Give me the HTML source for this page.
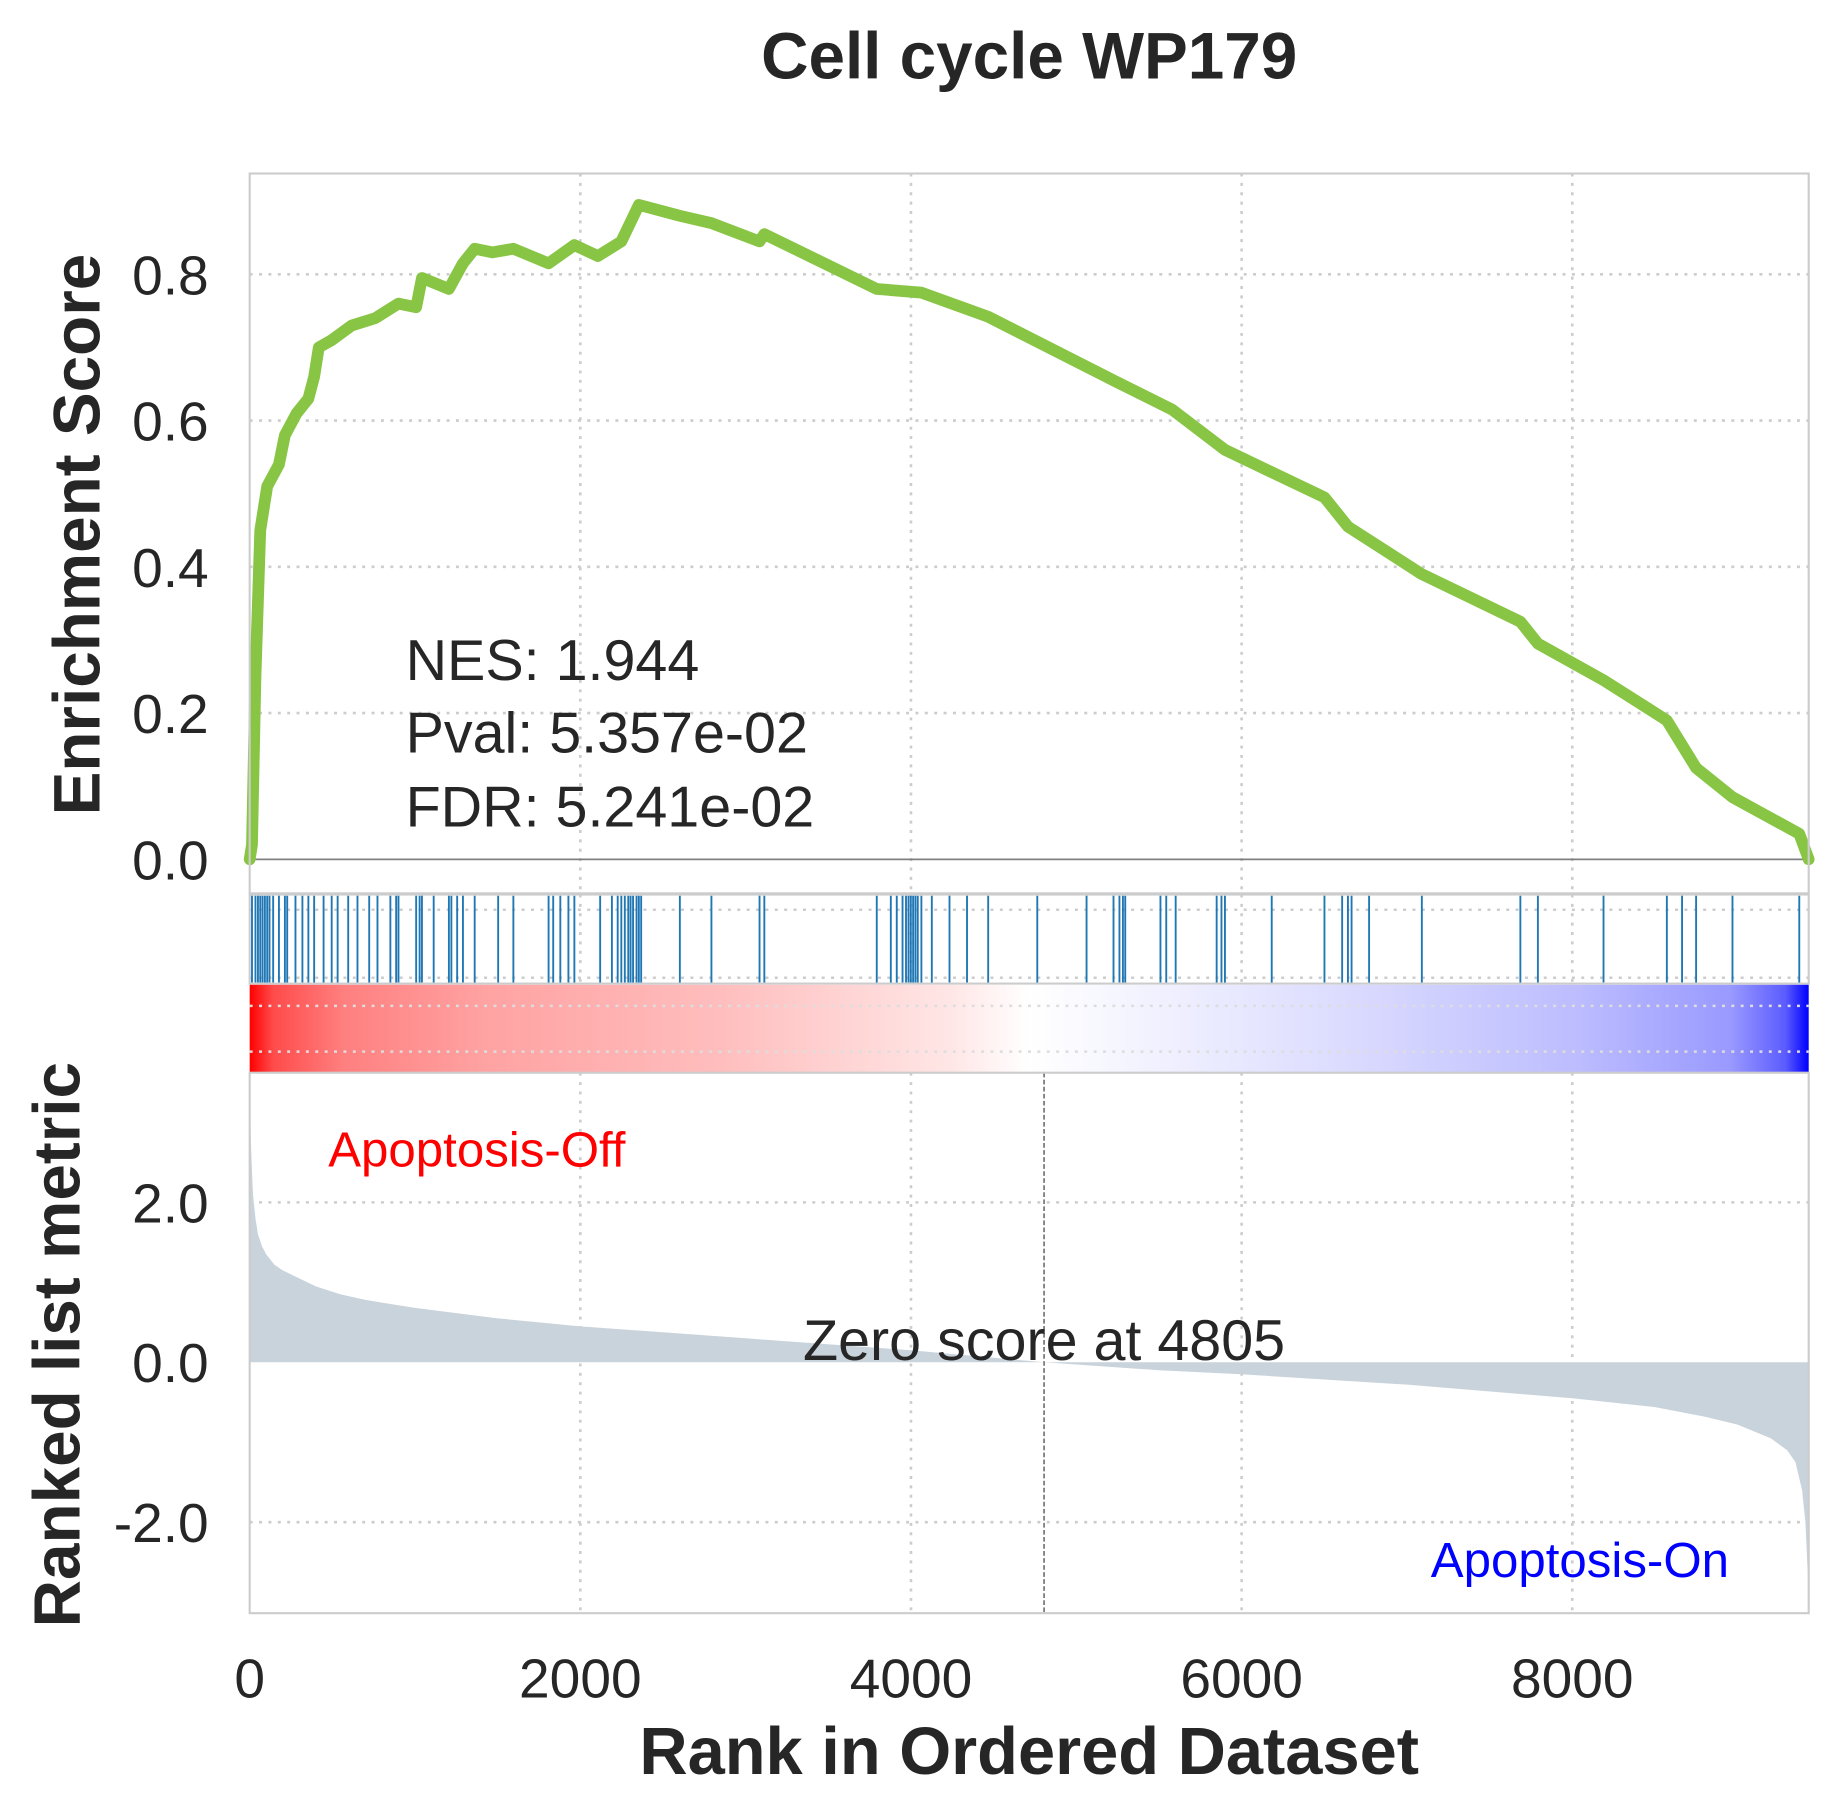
<!DOCTYPE html>
<html><head><meta charset="utf-8">
<style>
html,body{margin:0;padding:0;background:#fff;}
svg{display:block;}
text{font-family:"Liberation Sans",Arial,sans-serif;fill:#262626;}
</style></head>
<body>
<svg id="chart" width="1838" height="1816" viewBox="0 0 1568 1549" preserveAspectRatio="none" xmlns="http://www.w3.org/2000/svg">
<defs>
<linearGradient id="cbar" x1="0" x2="1" y1="0" y2="0">
<stop offset="0" stop-color="#ff0000"/>
<stop offset="0.015" stop-color="#ff4b4b"/>
<stop offset="0.06" stop-color="#ff7f7f"/>
<stop offset="0.15" stop-color="#ffa2a2"/>
<stop offset="0.3" stop-color="#ffbdbd"/>
<stop offset="0.45" stop-color="#ffe6e6"/>
<stop offset="0.5" stop-color="#ffffff"/>
<stop offset="0.56" stop-color="#f5f5ff"/>
<stop offset="0.7" stop-color="#dcdcff"/>
<stop offset="0.85" stop-color="#bdbdff"/>
<stop offset="0.95" stop-color="#9999ff"/>
<stop offset="0.985" stop-color="#5c5cff"/>
<stop offset="1" stop-color="#0000ff"/>
</linearGradient>
</defs>
<g id="layer"></g>
</svg>
<script>
// ---- data ----
const nGenes = 9430;
const esRanks = [0,14,35,64,106,177,213,284,355,390,418,496,617,759,900,1007,1042,1205,1290,1361,1468,1595,1808,1964,2106,2248,2354,2602,2793,3084,3113,3793,4063,4467,5225,5580,5899,6501,6643,7090,7686,7792,8189,8572,8749,8969,9373,9430];
const esValues = [0,0.02,0.25,0.45,0.51,0.54,0.58,0.61,0.63,0.66,0.70,0.71,0.73,0.74,0.76,0.755,0.795,0.78,0.815,0.835,0.83,0.835,0.815,0.84,0.825,0.845,0.895,0.88,0.87,0.845,0.855,0.78,0.775,0.742,0.655,0.615,0.56,0.495,0.455,0.39,0.325,0.295,0.245,0.19,0.125,0.085,0.035,0];
const hitRanks = [14,35,50,64,78,92,106,120,142,177,213,227,277,319,355,390,447,496,532,596,652,723,773,851,886,900,1007,1028,1042,1113,1205,1220,1255,1290,1361,1503,1595,1808,1836,1879,1928,1964,2120,2191,2226,2248,2269,2290,2304,2319,2340,2354,2368,2602,2793,3084,3113,3793,3878,3914,3949,3970,3985,3999,4013,4027,4041,4063,4126,4233,4339,4467,4764,5062,5225,5261,5282,5296,5509,5544,5601,5849,5878,5899,6182,6501,6608,6643,6665,6771,7090,7686,7792,8189,8572,8664,8749,8969,9373];
const metricRanks = [0,10,20,35,50,75,100,150,200,300,400,550,700,1000,1500,2000,3000,4000,4805,5500,6000,7000,8000,8500,8800,9000,9200,9300,9350,9390,9410,9430];
const metricValues = [3.3,2.6,2.1,1.8,1.6,1.45,1.35,1.22,1.15,1.05,0.95,0.85,0.78,0.68,0.55,0.45,0.3,0.15,0,-0.1,-0.15,-0.28,-0.45,-0.56,-0.68,-0.78,-0.95,-1.1,-1.25,-1.6,-2.0,-2.9];
const esTicks = [0,0.2,0.4,0.6,0.8];
const esTickLabels = ["0.0","0.2","0.4","0.6","0.8"];
const metricTicks = [2,0,-2];
const metricTickLabels = ["2.0","0.0","-2.0"];
const xTicks = [0,2000,4000,6000,8000];
const xTickLabels = ["0","2000","4000","6000","8000"];
const zeroRank = 4805;

// ---- axes ----
const L=213, R=1543;
const sx = r => L + (R-L)*r/nGenes;
const esTop=148, esBot=762;
const syES = v => 733 - v*623.75;
const mTop=915, mBot=1376;
const syM = v => 1162 - v*68.2;

const NS="http://www.w3.org/2000/svg";
const layer=document.getElementById('layer');
function mk(tag, attrs, parent){
  const e=document.createElementNS(NS,tag);
  for(const k in attrs) e.setAttribute(k,attrs[k]);
  (parent||layer).appendChild(e); return e;
}
function txt(s, attrs){ const e=mk('text',attrs); e.textContent=s; return e; }
const gridStyle={stroke:'#cccccc','stroke-width':2.2,'stroke-dasharray':'2.5,5.5'};

// title
let t=txt('Cell cycle WP179',{x:878,y:67,'text-anchor':'middle','font-size':56,'font-weight':'bold'});



// ES panel grid
esTicks.forEach((v,i)=>{
  if(v>0){ const g=mk('line',Object.assign({x1:L,x2:R,y1:syES(v),y2:syES(v)},gridStyle));
    
     }
  const tl=txt(esTickLabels[i],{x:178,y:syES(v)+17,'text-anchor':'end','font-size':47});
  
  
});
xTicks.forEach(v=>{ if(v>0){
  [[esTop,esBot],[763,915],[mTop,mBot]].forEach(([a,b])=>{
    const g=mk('line',Object.assign({x1:sx(v),x2:sx(v),y1:a,y2:b},gridStyle));
    
    
  });
}});
// zero line
let zl=mk('line',{x1:L,x2:R,y1:syES(0),y2:syES(0),stroke:'#808080','stroke-width':1.5});


// ES curve
let pts=esRanks.map((r,i)=>sx(r)+','+syES(esValues[i])).join(' ');
let es=mk('polyline',{points:pts,fill:'none',stroke:'#88c544','stroke-width':10,'stroke-linejoin':'round','stroke-linecap':'round'});


let esFrame=mk('rect',{x:L,y:esTop,width:R-L,height:esBot-esTop,fill:'none',stroke:'#cccccc','stroke-width':1.8});



// stats text
[['NES: 1.944',580],['Pval: 5.357e-02',642],['FDR: 5.241e-02',705]].forEach(([s,y])=>{
  const e=txt(s,{x:346,y:y,'font-size':49});
  
  
});

// hits
[776,834].forEach(y=>{
  const g=mk('line',Object.assign({x1:L,x2:R,y1:y,y2:y},gridStyle));
  
  
});
hitRanks.forEach(r=>{
  const h=mk('line',{x1:sx(r),x2:sx(r),y1:764,y2:838,stroke:'#1f77b4','stroke-width':1.6});
  
  
});
let hf=mk('rect',{x:L,y:763,width:R-L,height:76,fill:'none',stroke:'#cccccc','stroke-width':1.8});



// colorbar
let cb=mk('rect',{x:L,y:840,width:R-L,height:75,fill:'url(#cbar)'});


[858,897].forEach(y=>{
  const g=mk('line',{x1:L,x2:R,y1:y,y2:y,stroke:'#dddddd','stroke-width':2.2,'stroke-dasharray':'2.5,5.5'});
  
  
});

// metric panel
metricTicks.forEach((v,i)=>{
  if(v!==0){ const g=mk('line',Object.assign({x1:L,x2:R,y1:syM(v),y2:syM(v)},gridStyle));
    
     }
  const tl=txt(metricTickLabels[i],{x:178,y:syM(v)+17,'text-anchor':'end','font-size':47});
  
  
});
let d='M'+sx(0)+','+syM(0);
metricRanks.forEach((r,i)=>{ d+=' L'+sx(r)+','+syM(metricValues[i]); });
d+=' L'+sx(nGenes)+','+syM(0)+' Z';
let area=mk('path',{d:d,fill:'#c9d3dc'});


let zs=mk('line',{x1:sx(zeroRank),x2:sx(zeroRank),y1:mTop,y2:mBot,stroke:'#666666','stroke-width':1.3,'stroke-dasharray':'4,2'});


let mf=mk('rect',{x:L,y:mTop,width:R-L,height:mBot-mTop,fill:'none',stroke:'#cccccc','stroke-width':1.8});


let zt=txt('Zero score at 4805',{x:sx(zeroRank),y:1160,'text-anchor':'middle','font-size':49});


let off=txt('Apoptosis-Off',{x:280,y:995,'font-size':42});
off.style.fill='#ff0000';


let on=txt('Apoptosis-On',{x:1475,y:1345,'text-anchor':'end','font-size':42});
on.style.fill='#0000ff';



// x ticks
xTicks.forEach((v,i)=>{
  const tl=txt(xTickLabels[i],{x:sx(v),y:1448,'text-anchor':'middle','font-size':47});
  
  
});
let xl=txt('Rank in Ordered Dataset',{x:878,y:1513,'text-anchor':'middle','font-size':57,'font-weight':'bold'});


let yl1=txt('Enrichment Score',{x:0,y:0,'text-anchor':'middle','font-size':56,'font-weight':'bold',transform:'translate(85,456) rotate(-90)'});


let yl2=txt('Ranked list metric',{x:0,y:0,'text-anchor':'middle','font-size':56,'font-weight':'bold',transform:'translate(68,1147) rotate(-90)'});


</script>
</body></html>
